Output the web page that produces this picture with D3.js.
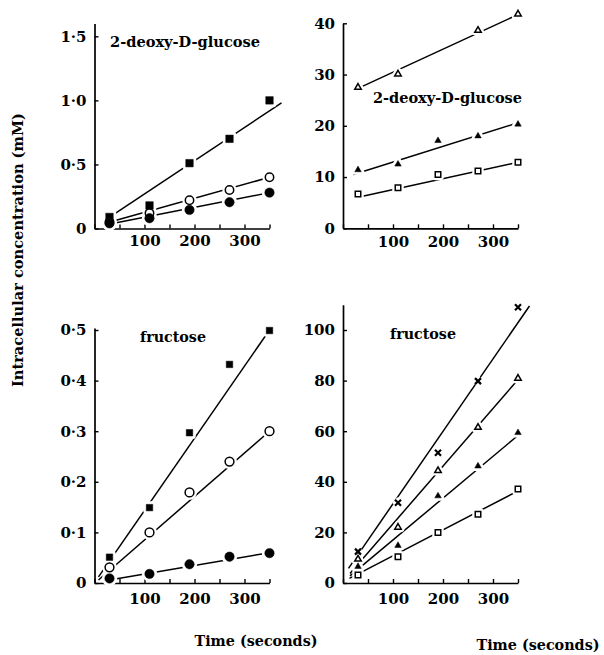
<!DOCTYPE html>
<html>
<head>
<meta charset="utf-8">
<script src="https://cdn.jsdelivr.net/npm/d3@7/dist/d3.min.js"></script>
<style>
  html, body { margin: 0; padding: 0; background: #fff; }
  svg text { font-family: "DejaVu Serif", "Liberation Serif", serif; font-weight: bold; fill: #000; }
</style>
</head>
<body>
<svg id="chart" width="604" height="655"></svg>
<script>
// ---------- DATA ----------
const times = [30, 110, 190, 270, 350];
const xTickValues = [0, 50, 100, 150, 200, 250, 300, 350];
const xTickLabels = [100, 200, 300];

// Panel A: 2-deoxy-D-glucose (low range)
const dgLowTicks = [0, 0.5, 1.0, 1.5];
const dgLowFilledSquare = [0.09, 0.18, 0.51, 0.70, 1.00];
const dgLowOpenCircle   = [0.05, 0.12, 0.22, 0.30, 0.40];
const dgLowFilledCircle = [0.04, 0.08, 0.145, 0.205, 0.28];
// fitted lines: [t start, value start, t end, value end]
const dgLowFits = [[31, 0.09, 374, 0.98], [31, 0.05, 350, 0.40], [31, 0.035, 350, 0.28]];

// Panel B: 2-deoxy-D-glucose (high range)
const dgHighTicks = [0, 10, 20, 30, 40];
const dgHighOpenTriangle   = [27.5, 30.1, null, 38.6, 41.8];
const dgHighFilledTriangle = [11.4, 12.5, 17.1, 18.0, 20.3];
const dgHighOpenSquare     = [6.7, 7.9, 10.5, 11.2, 12.9];
const dgHighFits = [[30, 27.3, 350, 41.7], [21, 10.5, 344, 20.4], [37, 6.2, 341, 12.7]];

// Panel C: fructose (low range)
const fruLowTicks = [0, 0.1, 0.2, 0.3, 0.4, 0.5];
const fruLowFilledSquare = [0.051, 0.149, 0.297, 0.432, 0.499];
const fruLowOpenCircle   = [0.031, 0.100, 0.179, 0.240, 0.300];
const fruLowFilledCircle = [0.009, 0.018, 0.037, 0.052, 0.059];
const fruLowFits = [[8, 0.012, 350, 0.5], [8, 0.006, 350, 0.3], [30, 0.006, 350, 0.06]];

// Panel D: fructose (high range)
const fruHighTicks = [0, 20, 40, 60, 80, 100];
const fruHighCross          = [12.4, 31.7, 51.5, 79.8, 109];
const fruHighOpenTriangle   = [9.4, 22.0, 44.4, 61.5, 80.9];
const fruHighFilledTriangle = [6.5, 14.8, 34.4, 46.2, 59.4];
const fruHighOpenSquare     = [3.2, 10.4, 20.0, 27.2, 37.2];
const fruHighFits = [[11, 5.8, 373, 109.5], [14, 3.8, 354, 81.3], [14, 2.8, 351, 58.5], [13, 1.8, 347, 36.1]];

const yAxisTitle = "Intracellular concentration (mM)";
const xAxisTitle = "Time (seconds)";

// ---------- LAYOUT ----------
const svg = d3.select("#chart");
svg.append("rect").attr("width", 604).attr("height", 655).attr("fill", "#fff");

const panels = [
  { x: [94.5, 269.5], y: [228.5, 23.5], yMax: 1.6, ticks: dgLowTicks, dec: true, xPad: 7,
    title: "2-deoxy-D-glucose", titleX: 110, titleY: 47, titleW: 150,
    series: [
      { v: dgLowFilledSquare, m: "square", filled: true, s: 7.5 },
      { v: dgLowOpenCircle, m: "circle", filled: false, s: 4.2 },
      { v: dgLowFilledCircle, m: "circle", filled: true, s: 4.7 }],
    fits: dgLowFits },
  { x: [343, 518], y: [228.3, 23.3], yMax: 40, ticks: dgHighTicks, dec: false, xPad: 8,
    title: "2-deoxy-D-glucose", titleX: 373, titleY: 103, titleW: 149,
    series: [
      { v: dgHighOpenTriangle, m: "triangle", filled: false, s: 6.5 },
      { v: dgHighFilledTriangle, m: "triangle", filled: true, s: 6.5 },
      { v: dgHighOpenSquare, m: "square", filled: false, s: 5.5 }],
    fits: dgHighFits },
  { x: [94.5, 269.5], y: [583, 328], yMax: 0.504, ticks: fruLowTicks, dec: true, xPad: 10.5,
    title: "fructose", titleX: 140, titleY: 342, titleW: 66,
    series: [
      { v: fruLowFilledSquare, m: "square", filled: true, s: 6.5 },
      { v: fruLowOpenCircle, m: "circle", filled: false, s: 4.4 },
      { v: fruLowFilledCircle, m: "circle", filled: true, s: 4.7 }],
    fits: fruLowFits },
  { x: [343, 518], y: [583, 304.7], yMax: 110, ticks: fruHighTicks, dec: false, xPad: 10.5,
    title: "fructose", titleX: 390, titleY: 339, titleW: 66,
    series: [
      { v: fruHighCross, m: "cross", filled: true, s: 6 },
      { v: fruHighOpenTriangle, m: "triangle", filled: false, s: 6.5 },
      { v: fruHighFilledTriangle, m: "triangle", filled: true, s: 6.5 },
      { v: fruHighOpenSquare, m: "square", filled: false, s: 5.5 }],
    fits: fruHighFits }
];

function markerPath(m, s) {
  if (m === "square") return d3.symbol(d3.symbolSquare, s * s)();
  if (m === "circle") return d3.symbol(d3.symbolCircle, Math.PI * s * s)();
  if (m === "triangle") return d3.symbol(d3.symbolTriangle, Math.sqrt(3) / 4 * s * s * 1.0)();
  if (m === "cross") {
    const h = s / 2;
    return `M${-h},${-h}L${h},${h}M${-h},${h}L${h},${-h}`;
  }
}

panels.forEach(p => {
  const x = d3.scaleLinear().domain([0, 350]).range(p.x);
  const y = d3.scaleLinear().domain([0, p.yMax]).range(p.y);
  const g = svg.append("g");
  const fmt = p.dec ? (d => d === 0 ? "0" : d3.format(".1f")(d).replace(".", "\u00b7")) : d3.format("d");

  // axes
  const yAxis = d3.axisLeft(y).tickValues(p.ticks).tickSizeInner(-4).tickSizeOuter(0).tickPadding(8).tickFormat(fmt);
  const gy = g.append("g").attr("transform", `translate(${p.x[0]},0)`).call(yAxis);
  const xAxis = d3.axisBottom(x).tickValues(xTickValues).tickSizeInner(-4).tickSizeOuter(0).tickPadding(p.xPad)
    .tickFormat(d => xTickLabels.includes(d) ? String(d) : "");
  const gx = g.append("g").attr("transform", `translate(0,${p.y[0]})`).call(xAxis);
  [gy, gx].forEach(a => {
    a.selectAll("path.domain").attr("stroke", "#000").attr("stroke-width", 1.7);
    a.selectAll(".tick line").attr("stroke", "#000").attr("stroke-width", 1.4);
    a.selectAll("text").attr("font-size", 15).attr("font-family", "DejaVu Serif").attr("font-weight", "bold").attr("fill", "#000");
  });

  // fit lines
  g.selectAll("line.fit").data(p.fits).join("line").attr("class", "fit")
    .attr("x1", d => x(d[0])).attr("y1", d => y(d[1]))
    .attr("x2", d => x(d[2])).attr("y2", d => y(d[3]))
    .attr("stroke", "#000").attr("stroke-width", 1.5);

  // markers with white halo (gaps in lines)
  p.series.forEach(se => {
    const pts = times.map((t, i) => ({ t, v: se.v[i] })).filter(d => d.v !== null);
    const path = markerPath(se.m, se.s);
    g.selectAll(null).data(pts).join("path")
      .attr("transform", d => `translate(${x(d.t)},${y(d.v)})`)
      .attr("d", path).attr("fill", "#fff").attr("stroke", "#fff")
      .attr("stroke-width", se.m === "cross" ? 7 : 6).attr("stroke-linejoin", "round");
  });
  p.series.forEach(se => {
    const pts = times.map((t, i) => ({ t, v: se.v[i] })).filter(d => d.v !== null);
    const path = markerPath(se.m, se.s);
    g.selectAll(null).data(pts).join("path")
      .attr("transform", d => `translate(${x(d.t)},${y(d.v)})`)
      .attr("d", path)
      .attr("fill", se.m === "cross" ? "none" : (se.filled ? "#000" : "#fff"))
      .attr("stroke", "#000")
      .attr("stroke-width", se.m === "cross" ? 2.2 : (se.filled ? 0.5 : 1.5));
  });

  // panel title
  g.append("text").attr("x", p.titleX).attr("y", p.titleY)
    .attr("font-size", 15).attr("textLength", p.titleW).attr("lengthAdjust", "spacingAndGlyphs")
    .text(p.title);
});

// shared axis titles
svg.append("text").attr("transform", "translate(23,250) rotate(-90)")
  .attr("text-anchor", "middle").attr("font-size", 14)
  .attr("textLength", 274).attr("lengthAdjust", "spacingAndGlyphs")
  .text(yAxisTitle);
svg.append("text").attr("x", 256).attr("y", 646).attr("text-anchor", "middle")
  .attr("font-size", 15).attr("textLength", 123).attr("lengthAdjust", "spacingAndGlyphs").text(xAxisTitle);
svg.append("text").attr("x", 538).attr("y", 650).attr("text-anchor", "middle")
  .attr("font-size", 15).attr("textLength", 123).attr("lengthAdjust", "spacingAndGlyphs").text(xAxisTitle);
</script>
</body>
</html>
